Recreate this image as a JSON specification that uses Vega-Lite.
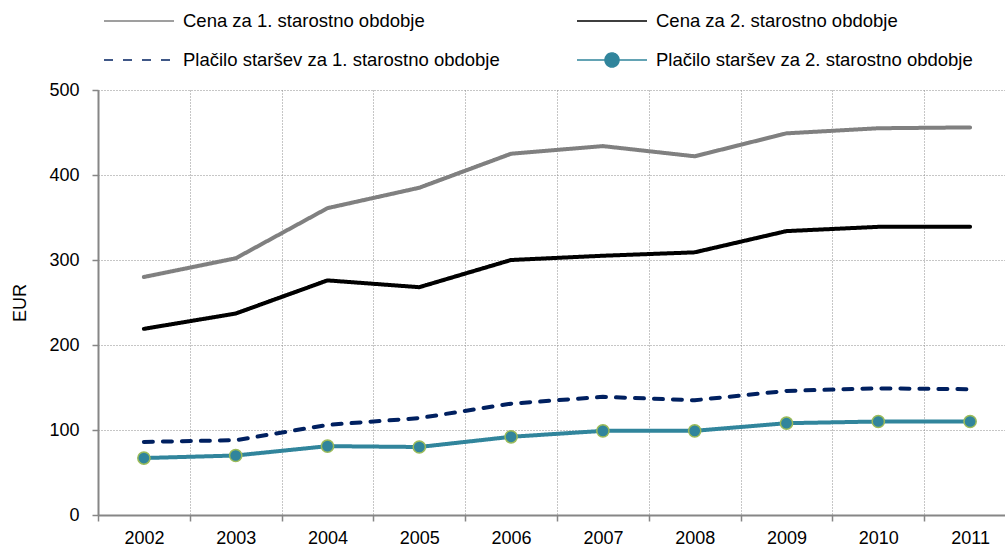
{
  "$schema": "https://vega.github.io/schema/vega-lite/v6.json",
  "width": 907,
  "height": 425,
  "autosize": "none",
  "padding": {"left": 98, "top": 90, "right": 0, "bottom": 33},
  "background": "white",
  "config": {
    "view": {"stroke": null},
    "font": "Liberation Sans",
    "axis": {
      "labelFont": "Liberation Sans",
      "titleFont": "Liberation Sans",
      "labelColor": "#000000",
      "titleColor": "#000000",
      "labelFontSize": 18,
      "titleFontSize": 18,
      "titleFontWeight": "normal",
      "domainColor": "#868686",
      "domainWidth": 2,
      "tickColor": "#868686",
      "tickWidth": 1.5,
      "tickSize": 6,
      "grid": true,
      "gridColor": "#8c8c8c",
      "gridDash": [1, 2],
      "gridWidth": 1
    }
  },
  "data": {
    "values": [
      {"year": "2002", "series": "Cena za 1. starostno obdobje", "value": 280},
      {"year": "2003", "series": "Cena za 1. starostno obdobje", "value": 302},
      {"year": "2004", "series": "Cena za 1. starostno obdobje", "value": 361},
      {"year": "2005", "series": "Cena za 1. starostno obdobje", "value": 385},
      {"year": "2006", "series": "Cena za 1. starostno obdobje", "value": 425},
      {"year": "2007", "series": "Cena za 1. starostno obdobje", "value": 434},
      {"year": "2008", "series": "Cena za 1. starostno obdobje", "value": 422},
      {"year": "2009", "series": "Cena za 1. starostno obdobje", "value": 449},
      {"year": "2010", "series": "Cena za 1. starostno obdobje", "value": 455},
      {"year": "2011", "series": "Cena za 1. starostno obdobje", "value": 456},
      {"year": "2002", "series": "Cena za 2. starostno obdobje", "value": 219},
      {"year": "2003", "series": "Cena za 2. starostno obdobje", "value": 237},
      {"year": "2004", "series": "Cena za 2. starostno obdobje", "value": 276},
      {"year": "2005", "series": "Cena za 2. starostno obdobje", "value": 268},
      {"year": "2006", "series": "Cena za 2. starostno obdobje", "value": 300},
      {"year": "2007", "series": "Cena za 2. starostno obdobje", "value": 305},
      {"year": "2008", "series": "Cena za 2. starostno obdobje", "value": 309},
      {"year": "2009", "series": "Cena za 2. starostno obdobje", "value": 334},
      {"year": "2010", "series": "Cena za 2. starostno obdobje", "value": 339},
      {"year": "2011", "series": "Cena za 2. starostno obdobje", "value": 339},
      {"year": "2002", "series": "Plačilo staršev za 1. starostno obdobje", "value": 86},
      {"year": "2003", "series": "Plačilo staršev za 1. starostno obdobje", "value": 88},
      {"year": "2004", "series": "Plačilo staršev za 1. starostno obdobje", "value": 106},
      {"year": "2005", "series": "Plačilo staršev za 1. starostno obdobje", "value": 114},
      {"year": "2006", "series": "Plačilo staršev za 1. starostno obdobje", "value": 131},
      {"year": "2007", "series": "Plačilo staršev za 1. starostno obdobje", "value": 139},
      {"year": "2008", "series": "Plačilo staršev za 1. starostno obdobje", "value": 135},
      {"year": "2009", "series": "Plačilo staršev za 1. starostno obdobje", "value": 146},
      {"year": "2010", "series": "Plačilo staršev za 1. starostno obdobje", "value": 149},
      {"year": "2011", "series": "Plačilo staršev za 1. starostno obdobje", "value": 148},
      {"year": "2002", "series": "Plačilo staršev za 2. starostno obdobje", "value": 67},
      {"year": "2003", "series": "Plačilo staršev za 2. starostno obdobje", "value": 70},
      {"year": "2004", "series": "Plačilo staršev za 2. starostno obdobje", "value": 81},
      {"year": "2005", "series": "Plačilo staršev za 2. starostno obdobje", "value": 80},
      {"year": "2006", "series": "Plačilo staršev za 2. starostno obdobje", "value": 92},
      {"year": "2007", "series": "Plačilo staršev za 2. starostno obdobje", "value": 99},
      {"year": "2008", "series": "Plačilo staršev za 2. starostno obdobje", "value": 99},
      {"year": "2009", "series": "Plačilo staršev za 2. starostno obdobje", "value": 108},
      {"year": "2010", "series": "Plačilo staršev za 2. starostno obdobje", "value": 110},
      {"year": "2011", "series": "Plačilo staršev za 2. starostno obdobje", "value": 110}
    ]
  },
  "encoding": {
    "x": {
      "field": "year",
      "type": "ordinal",
      "scale": {"type": "band", "range": [0, 918], "paddingInner": 0, "paddingOuter": 0},
      "axis": {"title": null, "tickBand": "extent", "labelAngle": 0, "labelPadding": 8}
    },
    "y": {
      "field": "value",
      "type": "quantitative",
      "scale": {"domain": [0, 500], "nice": false},
      "axis": {"title": "EUR", "values": [0, 100, 200, 300, 400, 500], "labelPadding": 13, "titlePadding": 19}
    }
  },
  "layer": [
    {
      "mark": {"type": "line", "strokeWidth": 4, "strokeCap": "round", "strokeJoin": "round"},
      "encoding": {
        "color": {
          "field": "series",
          "type": "nominal",
          "scale": {
            "domain": ["Cena za 1. starostno obdobje", "Plačilo staršev za 1. starostno obdobje", "Cena za 2. starostno obdobje", "Plačilo staršev za 2. starostno obdobje"],
            "range": ["#808080", "#002060", "#000000", "#31859C"]
          },
          "legend": {
            "title": null,
            "orient": "none",
            "legendX": 5,
            "legendY": -79,
            "columns": 2,
            "columnPadding": 76,
            "rowPadding": 19,
            "clipHeight": 20,
            "symbolType": "stroke",
            "symbolSize": 4900,
            "symbolStrokeWidth": 1.5,
            "symbolOffset": 0,
            "labelOffset": 8,
            "labelFont": "Liberation Sans",
            "labelFontSize": 18.5,
            "labelColor": "#000000",
            "labelLimit": 0,
            "encode": {
              "symbols": {
                "update": {
                  "strokeDash": [
                    {"test": "datum.label === 'Plačilo staršev za 1. starostno obdobje'", "value": [2, 1.5]},
                    {"value": [1, 0]}
                  ],
                  "strokeCap": {"value": "butt"},
                  "shape": {"signal": "datum.label === 'Plačilo staršev za 2. starostno obdobje' ? 'M-1,0H1M0.2,0A0.2,0.2,0,1,1,-0.2,0A0.2,0.2,0,1,1,0.2,0Z' : 'stroke'"},
                  "fill": {"signal": "datum.label === 'Plačilo staršev za 2. starostno obdobje' ? '#31859C' : 'transparent'"}
                }
              }
            }
          }
        },
        "strokeDash": {
          "field": "series",
          "type": "nominal",
          "scale": {
            "domain": ["Cena za 1. starostno obdobje", "Plačilo staršev za 1. starostno obdobje", "Cena za 2. starostno obdobje", "Plačilo staršev za 2. starostno obdobje"],
            "range": [[1, 0], [9, 10], [1, 0], [1, 0]]
          },
          "legend": null
        }
      }
    },
    {
      "transform": [{"filter": "datum.series === 'Plačilo staršev za 2. starostno obdobje'"}],
      "mark": {"type": "point", "shape": "circle", "filled": true, "fill": "#31859C", "stroke": "#9BBB59", "strokeWidth": 1.5, "size": 150, "opacity": 1}
    }
  ]
}
